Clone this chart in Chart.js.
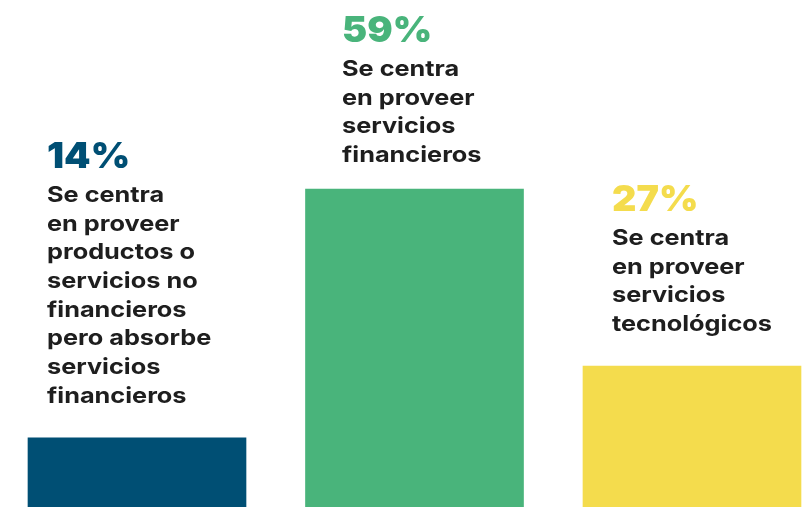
<!DOCTYPE html>
<html><head><meta charset="utf-8">
<script src="https://cdn.jsdelivr.net/npm/chart.js@4/dist/chart.umd.min.js"></script>
<style>html,body{margin:0;padding:0;background:#fff}#wrap{width:804px;height:507px}</style>
</head><body><div id="wrap"><canvas id="c"></canvas></div>
<script>
const categories = ["No financieros", "Servicios financieros", "Servicios tecnológicos"];
const values = [14, 59, 27];
const percentLabels = ["14%", "59%", "27%"];
const descriptions = [
  ["Se centra", "en proveer", "productos o", "servicios no", "financieros", "pero absorbe", "servicios", "financieros"],
  ["Se centra", "en proveer", "servicios", "financieros"],
  ["Se centra", "en proveer", "servicios", "tecnológicos"]
];
const colors = ["#004f74", "#49b47b", "#f4dc4d"];

const textPlugin = {
  id: 'barText',
  afterDatasetsDraw(chart, args, opts) {
    const ctx = chart.ctx;
    const meta = chart.getDatasetMeta(0);
    meta.data.forEach((bar, i) => {
      const x = bar.x + opts.xOffsets[i];
      const lines = descriptions[i];
      const lastBase = bar.y - opts.bottomGaps[i];
      const firstBase = lastBase - (lines.length - 1) * opts.lineStep;
      ctx.save();
      ctx.textAlign = 'left';
      ctx.textBaseline = 'alphabetic';
      ctx.fillStyle = '#1e1e1e';
      ctx.font = opts.labelFont;
      ctx.save();
      ctx.translate(x, 0);
      ctx.scale(opts.labelStretch, 1);
      lines.forEach((l, k) => ctx.fillText(l, 0, firstBase + k * opts.lineStep));
      ctx.restore();
      ctx.fillStyle = colors[i];
      ctx.font = opts.pctFont;
      ctx.translate(x, 0);
      ctx.scale(opts.pctStretch, 1);
      ctx.fillText(percentLabels[i], 0, firstBase - opts.pctGap);
      ctx.restore();
    });
  }
};

new Chart(document.getElementById('c'), {
  type: 'bar',
  data: {
    labels: categories,
    datasets: [{ data: values, backgroundColor: colors, barThickness: 218, borderWidth: 0, clip: false }]
  },
  options: {
    responsive: true, maintainAspectRatio: false, animation: false,
    layout: { padding: { left: 137, right: 112, top: 0, bottom: 0 } },
    scales: {
      x: { display: false, offset: false },
      y: { display: false, min: 1.5, max: 93.2 }
    },
    plugins: {
      legend: { display: false }, tooltip: { enabled: false },
      barText: {
        xOffsets: [-90, -72.5, -80],
        bottomGaps: [35, 27, 35],
        lineStep: 28.7,
        pctGap: 34,
        labelStretch: 1.15,
        pctStretch: 1.05,
        labelFont: '700 22px Inter',
        pctFont: '900 36px Inter'
      }
    }
  },
  plugins: [textPlugin]
});
</script></body></html>
